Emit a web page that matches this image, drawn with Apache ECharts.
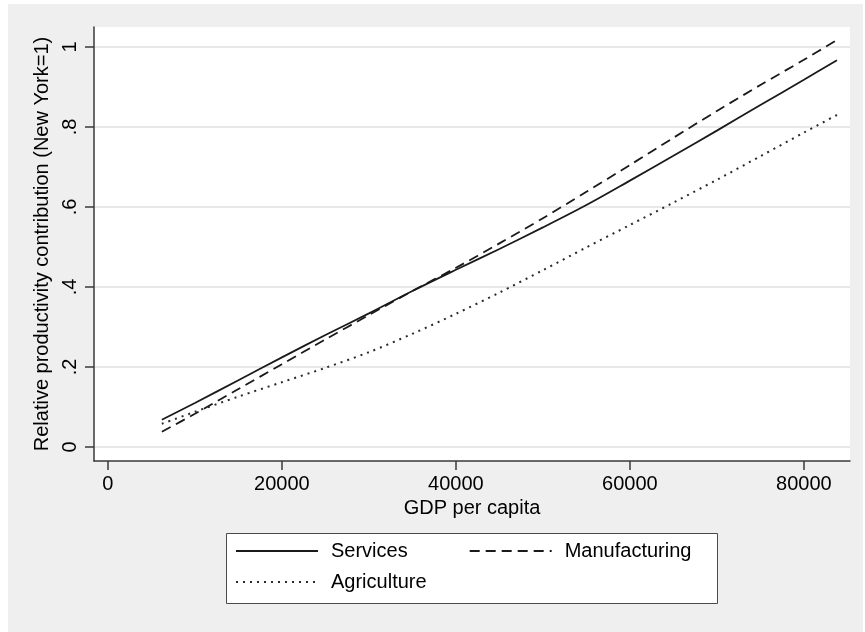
<!DOCTYPE html>
<html>
<head>
<meta charset="utf-8">
<script src="https://cdn.jsdelivr.net/npm/echarts@6/dist/echarts.min.js"></script>
<style>
  html, body { margin: 0; padding: 0; background: #ffffff; }
  #chart { width: 865px; height: 632px; }
</style>
</head>
<body>
<div id="chart"></div>
<script>
// GDP per capita grid points and fitted contributions by sector
var gdpPerCapita = [6200, 10000, 15000, 20000, 25000, 30000, 35000, 40000, 45000, 50000, 55000, 60000, 65000, 70000, 75000, 80000, 83800];
var services      = [0.068, 0.110, 0.167, 0.224, 0.280, 0.334, 0.390, 0.443, 0.495, 0.549, 0.605, 0.666, 0.728, 0.791, 0.855, 0.918, 0.967];
var manufacturing = [0.038, 0.083, 0.145, 0.207, 0.269, 0.330, 0.390, 0.448, 0.509, 0.572, 0.638, 0.705, 0.773, 0.840, 0.905, 0.968, 1.0175];
var agriculture   = [0.058, 0.088, 0.126, 0.162, 0.198, 0.237, 0.283, 0.333, 0.386, 0.442, 0.499, 0.555, 0.611, 0.668, 0.727, 0.786, 0.830];

var xTicks = [0, 20000, 40000, 60000, 80000];
var yTicks = [0, 0.2, 0.4, 0.6, 0.8, 1];

var seriesNames = ['Services', 'Manufacturing', 'Agriculture'];
var xTitle = 'GDP per capita';
var yTitle = 'Relative productivity contribution (New York=1)';

function pairs(ys) {
  return gdpPerCapita.map(function (x, i) { return [x, ys[i]]; });
}

function fmtY(v) {
  var r = Math.round(v * 10) / 10;
  if (r === 0) return '0';
  if (r === 1) return '1';
  return String(r).replace(/^0/, '');
}

function fmtX(v) {
  return String(Math.round(v));
}

var FONT = 'Liberation Sans, Arial, Helvetica, sans-serif';
var INK = '#1a1a1a';
var AXIS = '#3a3a3a';

var legendCommon = {
  left: 235,
  itemWidth: 82, itemHeight: 20,
  padding: 0,
  itemStyle: { opacity: 0, borderWidth: 0 },
  textStyle: { fontSize: 20, color: '#000', fontFamily: FONT, padding: [0, 0, 0, 8] }
};

var chart = echarts.init(document.getElementById('chart'), null, { renderer: 'canvas' });

chart.setOption({
  backgroundColor: '#ffffff',
  animation: false,
  textStyle: { fontFamily: FONT },
  graphic: [
    { type: 'rect', z: -10, silent: true,
      shape: { x: 8, y: 4, width: 855, height: 640 },
      style: { fill: '#efefef' } },
    { type: 'rect', z: 0, silent: true,
      shape: { x: 226.5, y: 533.5, width: 491, height: 70 },
      style: { fill: '#ffffff', stroke: '#4a4a4a', lineWidth: 1 } }
  ],
  grid: {
    left: 94, right: 15, top: 27, bottom: 171,
    show: true, backgroundColor: '#ffffff', borderWidth: 0
  },
  xAxis: {
    type: 'value',
    min: -1600, max: 85300,
    name: xTitle,
    nameLocation: 'middle',
    nameGap: 37,
    nameTextStyle: { fontSize: 20, color: '#000', fontFamily: FONT },
    axisLine: { show: true, onZero: false, lineStyle: { color: AXIS, width: 1.5 } },
    axisTick: { show: true, length: 9, customValues: xTicks, lineStyle: { color: AXIS, width: 1.5 } },
    axisLabel: { customValues: xTicks, margin: 13, fontSize: 20, color: '#000', fontFamily: FONT, formatter: fmtX },
    splitLine: { show: false }
  },
  yAxis: {
    type: 'value',
    min: -0.035, max: 1.05,
    name: yTitle,
    nameLocation: 'middle',
    nameGap: 40,
    nameRotate: 90,
    nameTextStyle: { fontSize: 20, color: '#000', fontFamily: FONT },
    axisLine: { show: true, onZero: false, lineStyle: { color: AXIS, width: 1.5 } },
    axisTick: { show: true, length: 9, customValues: yTicks, lineStyle: { color: AXIS, width: 1.5 } },
    axisLabel: {
      customValues: yTicks, rotate: 90, margin: 14, fontSize: 20, color: '#000',
      fontFamily: FONT, formatter: fmtY
    },
    splitLine: { show: true, lineStyle: { color: '#e8e8e8', width: 2 } }
  },
  legend: [
    Object.assign({}, legendCommon, {
      data: [seriesNames[0], seriesNames[1]],
      top: 541, itemGap: 61
    }),
    Object.assign({}, legendCommon, {
      data: [seriesNames[2]],
      top: 572
    })
  ],
  series: [
    {
      name: seriesNames[0], type: 'line', data: pairs(services),
      smooth: 0.3, symbol: 'none',
      lineStyle: { color: INK, width: 1.8, type: 'solid' },
      itemStyle: { color: INK }
    },
    {
      name: seriesNames[1], type: 'line', data: pairs(manufacturing),
      smooth: 0.3, symbol: 'none',
      lineStyle: { color: INK, width: 1.8, type: [10, 6] },
      itemStyle: { color: INK }
    },
    {
      name: seriesNames[2], type: 'line', data: pairs(agriculture),
      smooth: 0.3, symbol: 'none',
      lineStyle: { color: '#2a2a2a', width: 2, type: [2, 5] },
      itemStyle: { color: '#2a2a2a' }
    }
  ]
});
</script>
</body>
</html>
